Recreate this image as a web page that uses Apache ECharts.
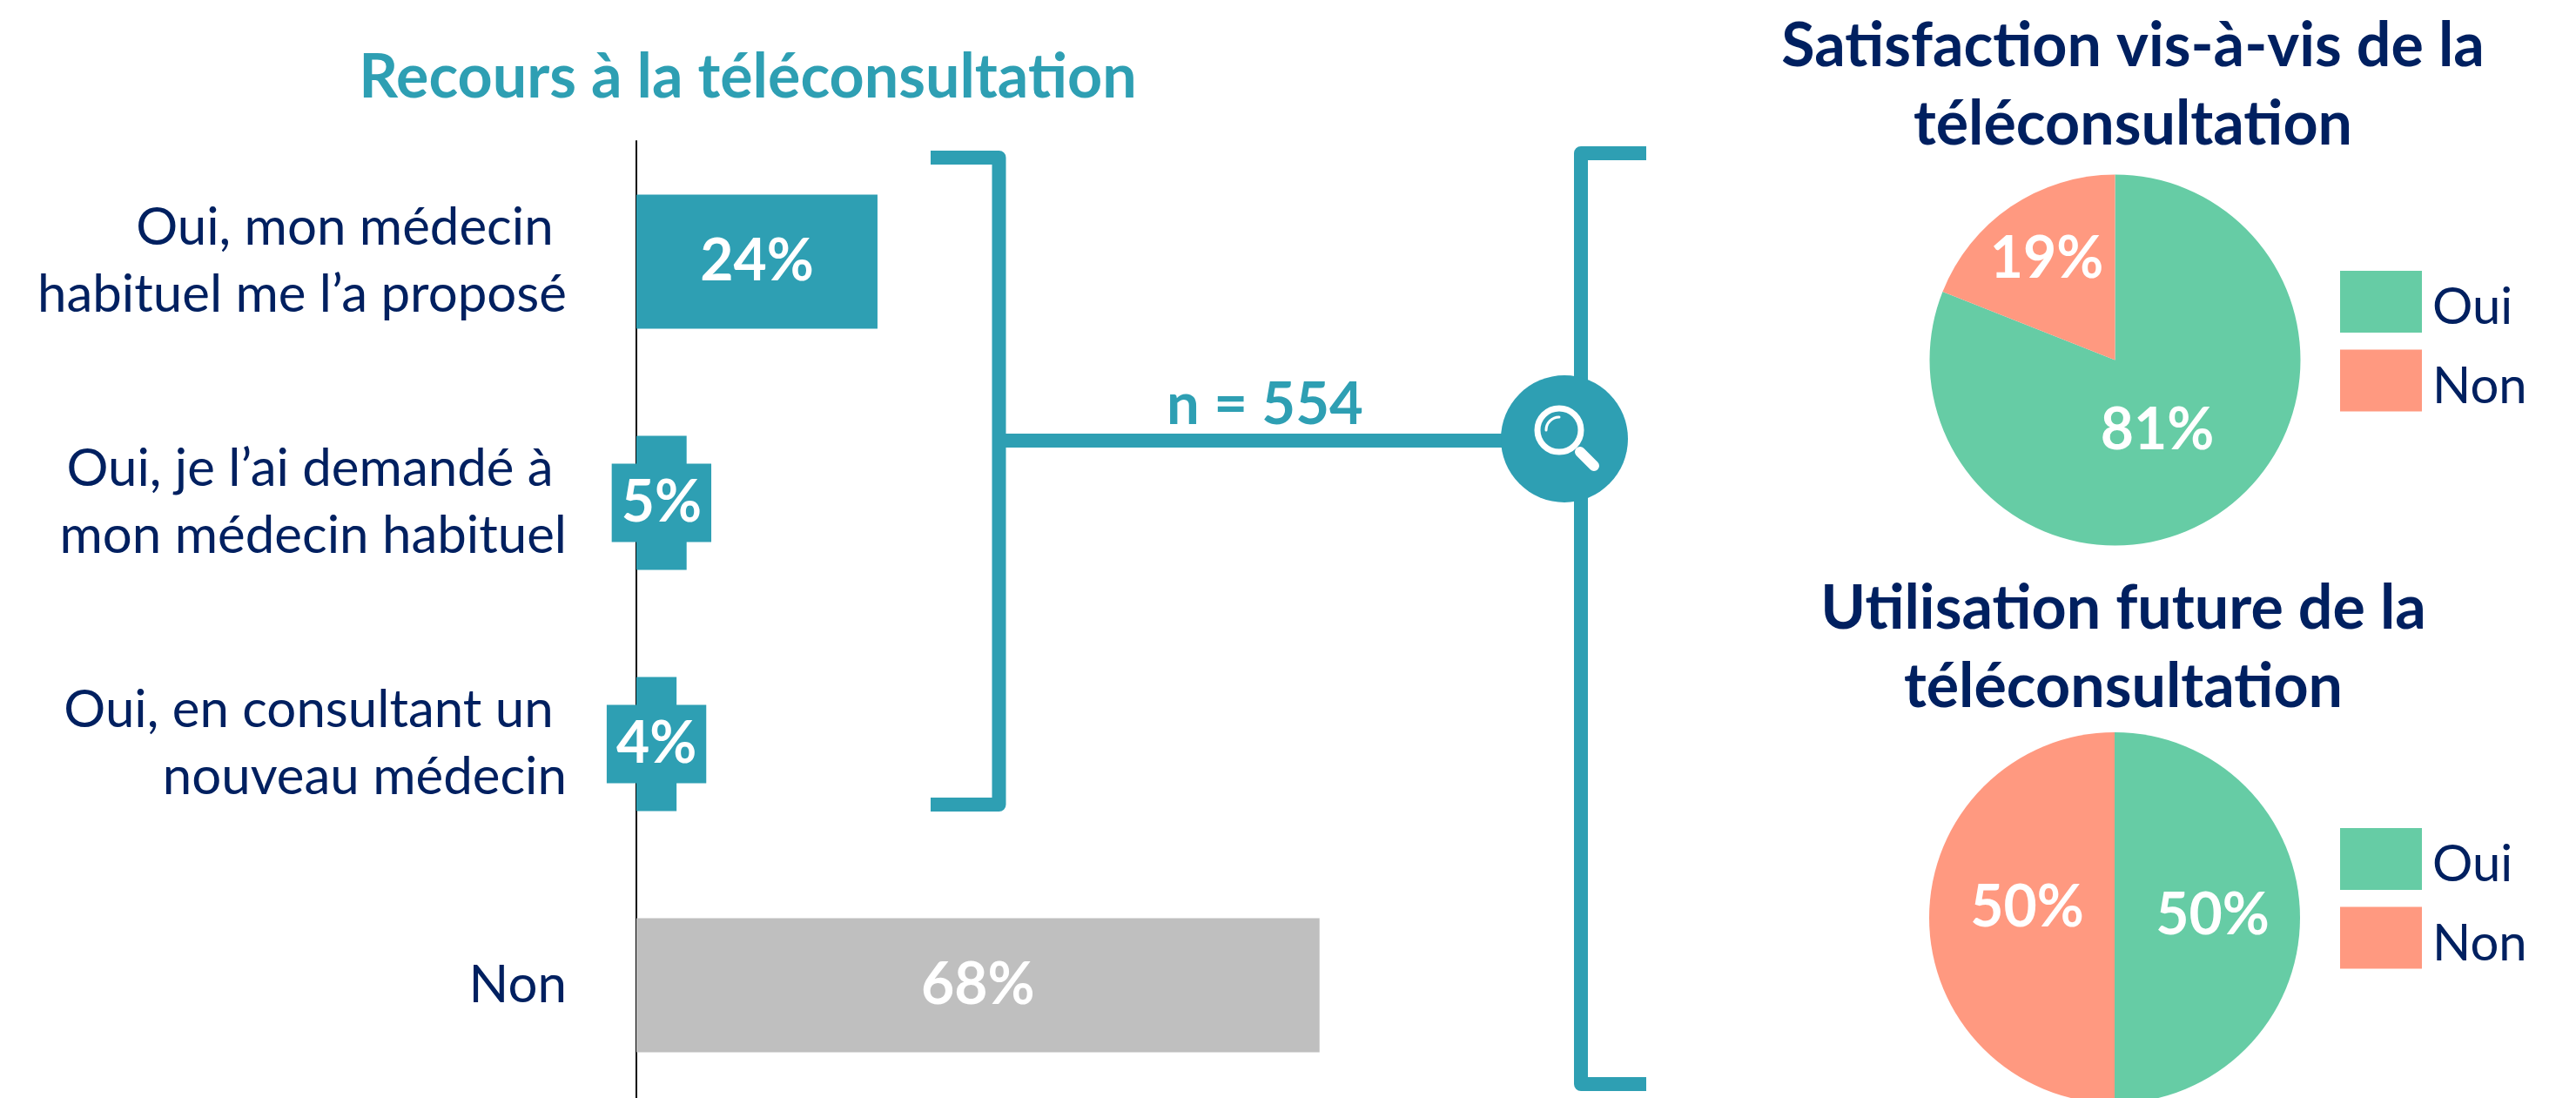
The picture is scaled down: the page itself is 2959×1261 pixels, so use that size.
<!DOCTYPE html>
<html>
<head>
<meta charset="utf-8">
<title>Recours à la téléconsultation</title>
<script src="https://cdn.jsdelivr.net/npm/echarts@6/dist/echarts.min.js"></script>
<style>
    html, body { margin: 0; padding: 0; background: #fff; height: 1261px; overflow: hidden; }
    /* le graphique d'origine est coupé en bas : le canvas dépasse un peu */
    #chart { width: 2959px; height: 1280px; }
</style>
</head>
<body>
<div id="chart"></div>
<script>
// données
const categories = [
    'Oui, mon médecin \nhabituel me l’a proposé',
    'Oui, je l’ai demandé à \nmon médecin habituel',
    'Oui, en consultant un \nnouveau médecin',
    'Non',
]
const recours = [24, 5, 4, 68]
const pieNames = ['Oui', 'Non']
const satisfaction = [81, 19]
const utilisation = [50, 50]

const TEAL = '#2E9FB3'
const NAVY = '#002060'
const GREEN = '#66CCA5'
const SALMON = '#FF9980'
const GREY = '#BFBFBF'
const FONT = 'Lato'

const pieData = values =>
    values.map((v, i) => ({
        name: pieNames[i],
        value: v,
        itemStyle: { color: i === 0 ? GREEN : SALMON },
    }))

const pieSeries = (values, center, offsets) => ({
    type: 'pie',
    center: center,
    radius: [0, 213],
    startAngle: 90,
    clockwise: true,
    animation: false,
    silent: true,
    data: pieData(values),
    labelLine: { show: false },
    label: {
        show: true,
        position: 'inside',
        formatter: '{c}%',
        color: '#fff',
        fontFamily: FONT,
        fontWeight: 'bold',
        fontSize: 66,
    },
    labelLayout: params => ({
        dx: offsets[params.dataIndex][0],
        dy: offsets[params.dataIndex][1],
    }),
})

const legend = top => ({
    orient: 'vertical',
    left: 2688,
    top: top,
    padding: 0,
    icon: 'rect',
    itemWidth: 94,
    itemHeight: 71,
    itemGap: 19,
    selectedMode: false,
    data: pieNames,
    formatter: '{t|{name}}',
    textStyle: {
        rich: {
            t: { color: NAVY, fontFamily: FONT, fontSize: 58, padding: [14, 0, 0, 7] },
        },
    },
})

const heading = (text, x, y, color) => ({
    text: text,
    left: x,
    top: y,
    padding: 0,
    textAlign: 'center',
    textStyle: {
        color: color,
        fontFamily: FONT,
        fontWeight: 'bold',
        fontSize: 70,
        lineHeight: 90,
    },
})

const option = {
    backgroundColor: '#fff',
    animation: false,
    title: [
        heading('Recours à la téléconsultation', 859, 44, TEAL),
        heading('Satisfaction vis-à-vis de la\ntéléconsultation', 2450, 8, NAVY),
        heading('Utilisation future de la\ntéléconsultation', 2439, 654, NAVY),
    ],
    legend: [legend(311), legend(951)],
    grid: { left: 731, top: 162, width: 1154, height: 1108 },
    xAxis: { type: 'value', min: 0, max: 100, show: false },
    yAxis: {
        type: 'category',
        inverse: true,
        data: categories,
        axisLine: { show: true, lineStyle: { color: '#000', width: 2 } },
        axisTick: { show: false },
        axisLabel: {
            margin: 80,
            color: NAVY,
            fontFamily: FONT,
            fontSize: 60,
            lineHeight: 77,
            align: 'right',
            padding: [12, 0, 0, 0],
        },
    },
    series: [
        {
            type: 'bar',
            barWidth: 154,
            silent: true,
            data: recours.map((v, i) => ({
                value: v,
                itemStyle: { color: i === 3 ? GREY : TEAL },
                label: v < 10 ? { backgroundColor: TEAL, padding: [18, 11, 6, 11] } : {},
            })),
            label: {
                show: true,
                position: 'inside',
                formatter: '{c}%',
                color: '#fff',
                fontFamily: FONT,
                fontWeight: 'bold',
                fontSize: 66,
                padding: [12, 0, 0, 0],
            },
        },
        pieSeries(satisfaction, [2429.5, 413.5], [[-13, -9], [-17, -25]]),
        pieSeries(utilisation, [2429, 1054], [[3, -2], [9, -11]]),
    ],
    graphic: {
        elements: [
            {
                type: 'polyline',
                z: 10,
                shape: { points: [[1069, 181], [1147.5, 181], [1147.5, 924], [1069, 924]] },
                style: { stroke: TEAL, lineWidth: 16, fill: null, lineJoin: 'round' },
            },
            {
                type: 'polyline',
                z: 10,
                shape: { points: [[1891, 176], [1816, 176], [1816, 1245], [1891, 1245]] },
                style: { stroke: TEAL, lineWidth: 16, fill: null, lineJoin: 'round' },
            },
            {
                type: 'line',
                z: 10,
                shape: { x1: 1150, y1: 506, x2: 1740, y2: 506 },
                style: { stroke: TEAL, lineWidth: 16 },
            },
            {
                type: 'text',
                z: 11,
                style: {
                    x: 1453,
                    y: 465,
                    text: 'n = 554',
                    align: 'center',
                    verticalAlign: 'middle',
                    fill: TEAL,
                    font: 'bold 67px Lato',
                },
            },
            // loupe
            {
                type: 'circle',
                z: 12,
                shape: { cx: 1797, cy: 504, r: 73 },
                style: { fill: TEAL },
            },
            {
                type: 'circle',
                z: 13,
                shape: { cx: 1791, cy: 494, r: 25 },
                style: { fill: null, stroke: '#fff', lineWidth: 7 },
            },
            {
                type: 'arc',
                z: 13,
                shape: { cx: 1791, cy: 494, r: 15, startAngle: Math.PI, endAngle: Math.PI * 1.5 },
                style: { fill: null, stroke: '#fff', lineWidth: 3, lineCap: 'round' },
            },
            {
                type: 'line',
                z: 13,
                shape: { x1: 1815, y1: 519, x2: 1831, y2: 535 },
                style: { stroke: '#fff', lineWidth: 12, lineCap: 'round' },
            },
        ],
    },
}

const myChart = echarts.init(document.getElementById('chart'))
myChart.setOption(option)
</script>
</body>
</html>
